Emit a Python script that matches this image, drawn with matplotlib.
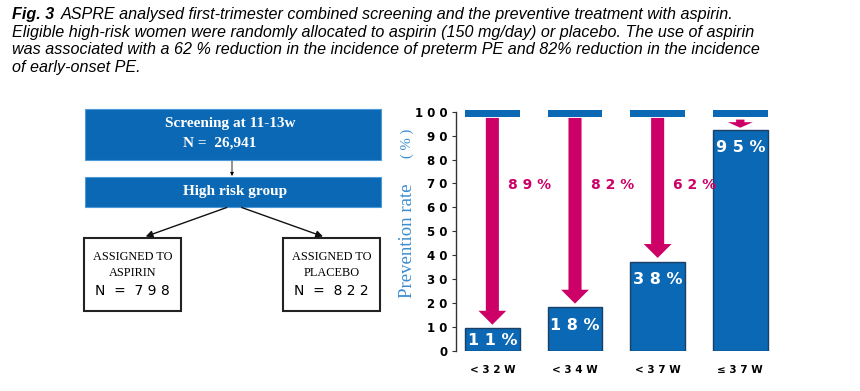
import numpy as np
import matplotlib
matplotlib.use("Agg")
import matplotlib.pyplot as plt
from matplotlib.patches import Rectangle, FancyArrowPatch, ArrowStyle

# bar chart data
groups = ["< 3 2 W", "< 3 4 W", "< 3 7 W", "≤ 3 7 W"]
bar_heights = [9.5, 18.3, 37.4, 92.5]
bar_labels = ["1 1 %", "1 8 %", "3 8 %", "9 5 %"]
reduction_labels = ["8 9 %", "8 2 %", "6 2 %", ""]
reference_level = [100, 100, 100, 100]
yticks = list(range(0, 101, 10))

# flowchart numbers
n_screened = "26,941"
n_aspirin = "7 9 8"
n_placebo = "8 2 2"

title_head = "Fig. 3"
title_lines = [
    "ASPRE analysed first-trimester combined screening and the preventive treatment with aspirin.",
    "Eligible high-risk women were randomly allocated to aspirin (150 mg/day) or placebo. The use of aspirin",
    "was associated with a 62 % reduction in the incidence of preterm PE and 82% reduction in the incidence",
    "of early-onset PE.",
]

BLUE = "#0A68B4"
MAGENTA = "#CC0066"
LIGHTBLUE = "#3A8BD0"
SERIF = ["Liberation Serif", "DejaVu Serif"]

W, H = 860, 391
fig = plt.figure(figsize=(W / 100, H / 100), dpi=100)
fa = fig.add_axes([0, 0, 1, 1])
fa.set_xlim(0, W)
fa.set_ylim(H, 0)
fa.axis("off")

# title
TS = 11.6
renderer = fig.canvas.get_renderer()
t = fa.text(12, 14, title_head, fontsize=TS, style="italic", fontweight="bold",
            family="Liberation Sans", va="center", ha="left")
bb = t.get_window_extent(renderer)
x_after = bb.x1 + 7
fa.text(x_after, 14, title_lines[0], fontsize=TS, style="italic",
        family="Liberation Sans", va="center", ha="left")
for k, line in enumerate(title_lines[1:]):
    fa.text(12, 32 + 17.6 * k, line, fontsize=TS, style="italic",
            family="Liberation Sans", va="center", ha="left")

# flowchart
fa.add_patch(Rectangle((85, 109), 296, 51, fc=BLUE, ec="#4E9AD8", lw=0.8))
fa.text(230, 124, "Screening at 11-13w", color="white", fontsize=11,
        fontweight="bold", family=SERIF, ha="center", va="center")
fa.text(220, 143, "N =  " + n_screened, color="white", fontsize=11,
        fontweight="bold", family=SERIF, ha="center", va="center")
fa.annotate("", xy=(232, 176), xytext=(232, 161),
            arrowprops=dict(arrowstyle="-|>", color="black", lw=0.6,
                            mutation_scale=5, shrinkA=0, shrinkB=0))
fa.add_patch(Rectangle((85, 177), 296, 30, fc=BLUE, ec="#4E9AD8", lw=0.8))
fa.text(235, 192, "High risk group", color="white", fontsize=11,
        fontweight="bold", family=SERIF, ha="center", va="center")
for x0, x1 in [(226.7, 145.7), (241.7, 323)]:
    fa.annotate("", xy=(x1, 236.5), xytext=(x0, 207.5),
                arrowprops=dict(arrowstyle="-|>", color="#111111", lw=1,
                                mutation_scale=10, shrinkA=0, shrinkB=0))
for bx, label, n in [(84, "ASPIRIN", n_aspirin), (283, "PLACEBO", n_placebo)]:
    fa.add_patch(Rectangle((bx, 238), 97, 73, fc="white", ec="#222222", lw=1.5))
    cx = bx + 48.5
    fa.text(cx, 257, "ASSIGNED TO", fontsize=8.8, family=SERIF,
            ha="center", va="center")
    fa.text(cx, 273, label, fontsize=8.8, family=SERIF, ha="center", va="center")
    fa.text(cx, 291, "N  =  " + n, fontsize=10, family="DejaVu Sans",
            ha="center", va="center")

# bar chart
x = np.arange(len(groups))
px0, px1 = 456, 775
py0, py100 = 351, 111.7
ax = fig.add_axes([px0 / W, (H - py0) / H, (px1 - px0) / W, (py0 - py100) / H])
ax.set_facecolor("none")
ax.set_xlim(-0.44, 3.42)
ax.set_ylim(0, 100)

ax.bar(x, bar_heights, width=0.66, color=BLUE, edgecolor="#1C3F66", lw=1, zorder=2)
ref = np.array(reference_level, dtype=float)
ax.bar(x, 3.2, bottom=ref - 2.4, width=0.66, color=BLUE, lw=0, zorder=2, clip_on=False)

for i, h in enumerate(bar_heights):
    if i < 3:
        style = ArrowStyle.Simple(head_length=10, head_width=20, tail_width=9.4)
        start, end = ref[i] - 2.6, h + 1.5
    else:
        style = ArrowStyle.Simple(head_length=4, head_width=18, tail_width=6)
        start, end = ref[i] - 3.3, h + 0.8
    ax.add_patch(FancyArrowPatch((i, start), (i, end), arrowstyle=style,
                                 mutation_scale=1, color=MAGENTA, lw=0,
                                 shrinkA=0, shrinkB=0, zorder=3))
    if reduction_labels[i]:
        ax.text(i + 0.19, 69.5, reduction_labels[i], color=MAGENTA, fontsize=10,
                fontweight="bold", ha="left", va="center")
    ypos = h - 7.5 if h > 15 else h / 2 - 0.5
    ax.text(i, ypos, bar_labels[i], color="white", fontsize=11.5,
            fontweight="bold", ha="center", va="center", zorder=4)

ax.set_yticks(yticks)
ax.set_yticklabels([" ".join(str(v)) for v in yticks], fontsize=8.5, fontweight="bold")
ax.set_xticks(x)
ax.set_xticklabels(groups, fontsize=7.5, fontweight="bold")
ax.tick_params(axis="x", length=0, pad=10)
ax.tick_params(axis="y", length=3, width=0.8, pad=3, color="#333333")
for s in ["top", "right", "bottom"]:
    ax.spines[s].set_visible(False)
ax.spines["left"].set_color("#333333")
ax.spines["left"].set_linewidth(1)

fa.text(407, 241, "Prevention rate", rotation=90, family=SERIF, color=LIGHTBLUE,
        fontsize=13.5, ha="center", va="center")
fa.text(407, 143, "( % )", rotation=90, family=SERIF, color=LIGHTBLUE,
        fontsize=10.5, ha="center", va="center")

fig.savefig("out.png", dpi=100)
